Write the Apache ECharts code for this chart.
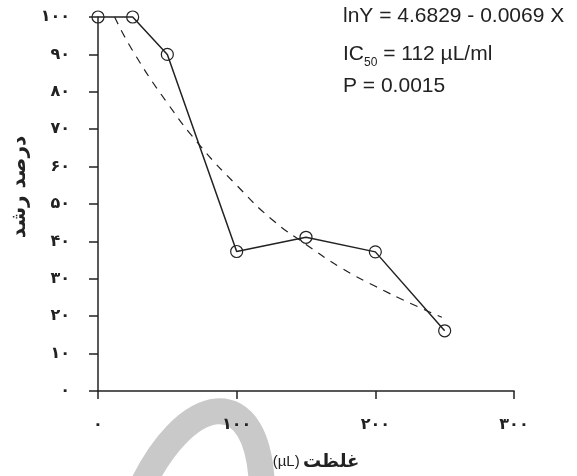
<!DOCTYPE html>
<html>
<head>
<meta charset="utf-8">
<script src="https://cdn.jsdelivr.net/npm/echarts@6/dist/echarts.min.js"></script>
<style>
  html, body { margin: 0; padding: 0; background: #fff; }
  #chart { width: 577px; height: 476px; }
</style>
</head>
<body>
<div id="chart"></div>
<script>
// measured growth (%) at each concentration
const doses = [0, 25, 50, 100, 150, 200, 250];
const growth = [100, 100, 90, 37.3, 41.1, 37.2, 16.1];

// fitted curve
const fitX = [12, 25, 50, 75, 100, 125, 150, 175, 200, 225, 248];
const fitY = [100, 91, 77, 65, 55, 46, 39.2, 33, 28, 23.5, 19.7];

const persianDigits = "۰۱۲۳۴۵۶۷۸۹";
const toPersian = (v) => String(v).replace(/\d/g, (d) => persianDigits[d]);

const eqLines = ["lnY = 4.6829 - 0.0069 X", "{a|IC}{s|50}{a| = 112 µL/ml}", "P = 0.0015"];

const chart = echarts.init(document.getElementById("chart"));

const faFont = "DejaVu Sans";
const latinFont = "Liberation Sans";

chart.setOption({
  animation: false,
  grid: { left: 98, right: 63, top: 17, bottom: 80 },
  xAxis: {
    type: "value",
    min: 0,
    max: 300,
    interval: 100,
    splitLine: { show: false },
    axisLine: { lineStyle: { color: "#222", width: 1.5 } },
    axisTick: { inside: false, length: 8, lineStyle: { color: "#222", width: 1.5 } },
    axisLabel: {
      formatter: toPersian,
      margin: 26,
      color: "#222",
      fontFamily: faFont,
      fontWeight: "bold",
      fontSize: 16,
    },
    name: "{u|(µL)} {b|غلظت}",
    nameLocation: "middle",
    nameGap: 62,
    nameTextStyle: {
      padding: [0, 0, 0, 20],
      rich: {
        u: { fontFamily: latinFont, fontSize: 15, color: "#222" },
        b: { fontFamily: faFont, fontWeight: "bold", fontSize: 18, color: "#222" },
      },
    },
  },
  yAxis: {
    type: "value",
    min: 0,
    max: 100,
    interval: 10,
    splitLine: { show: false },
    axisLine: { show: true, lineStyle: { color: "#222", width: 1.5 } },
    axisTick: { show: true, length: 9, lineStyle: { color: "#222", width: 1.5 } },
    axisLabel: {
      formatter: toPersian,
      margin: 28,
      color: "#222",
      fontFamily: faFont,
      fontWeight: "bold",
      fontSize: 16,
    },
    name: "درصد رشد",
    nameLocation: "middle",
    nameRotate: 90,
    nameGap: 64,
    nameTextStyle: {
      color: "#222",
      fontFamily: faFont,
      fontWeight: "bold",
      fontSize: 20,
      padding: [0, 0, 0, 34],
    },
  },
  graphic: [
    {
      type: "bezierCurve",
      z: -100,
      silent: true,
      shape: { x1: 138, y1: 495, cpx1: 183, cpy1: 392, cpx2: 262, cpy2: 375, x2: 262, y2: 495 },
      style: { stroke: "#c9c9c9", lineWidth: 26, fill: null },
    },
    {
      type: "text",
      left: 343,
      top: 6,
      style: { text: eqLines[0], font: "21px 'Liberation Sans'", fill: "#222" },
    },
    {
      type: "text",
      left: 343,
      top: 43,
      style: {
        text: eqLines[1],
        fill: "#222",
        rich: {
          a: { fontFamily: latinFont, fontSize: 21, verticalAlign: "top", lineHeight: 24 },
          s: { fontFamily: latinFont, fontSize: 12, padding: [14, 0, 0, 0], lineHeight: 24 },
        },
      },
    },
    {
      type: "text",
      left: 343,
      top: 76,
      style: { text: eqLines[2], font: "21px 'Liberation Sans'", fill: "#222" },
    },
  ],
  series: [
    {
      name: "fit",
      type: "line",
      data: fitX.map((x, i) => [x, fitY[i]]),
      smooth: true,
      showSymbol: false,
      lineStyle: { color: "#222", width: 1.2, type: [8, 7] },
      z: 2,
    },
    {
      name: "growth",
      type: "line",
      data: doses.map((x, i) => [x, growth[i]]),
      symbol: "circle",
      symbolSize: 12,
      itemStyle: { color: "rgba(255,255,255,0)", borderColor: "#222", borderWidth: 1.2 },
      lineStyle: { color: "#222", width: 1.5 },
      clip: false,
      z: 3,
    },
  ],
});
</script>
</body>
</html>
